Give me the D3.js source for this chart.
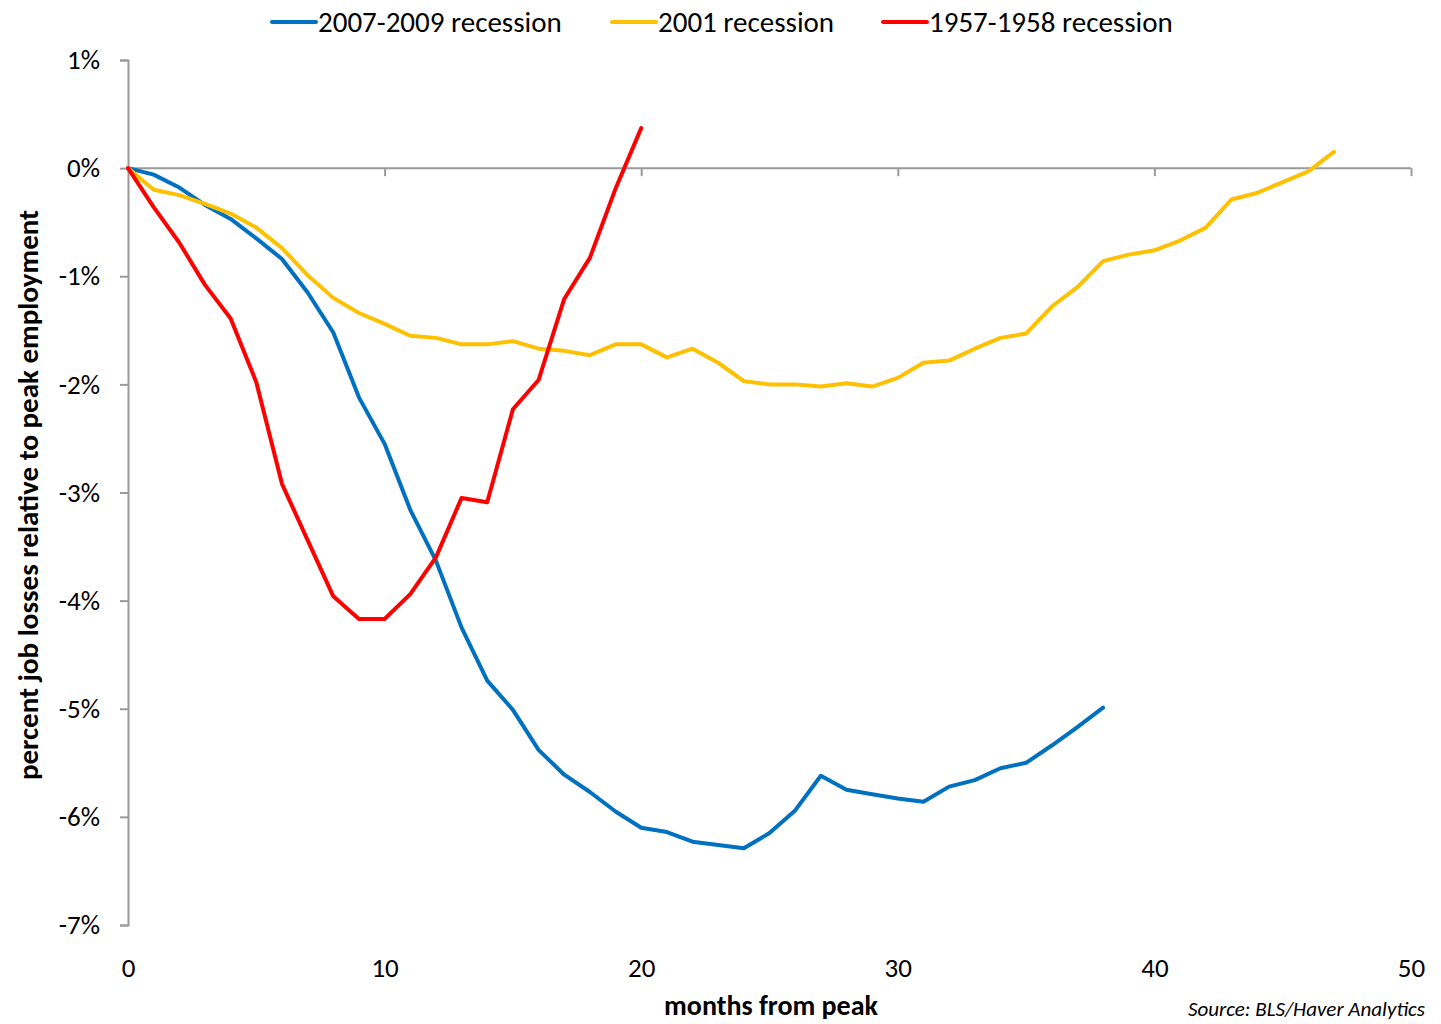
<!DOCTYPE html>
<html><head><meta charset="utf-8">
<script src="https://cdn.jsdelivr.net/npm/d3@7"></script>
<style>
body{margin:0;background:#fff;}
text{font-family:Carlito,Lato,'Noto Sans',sans-serif;fill:#000;}
</style></head>
<body><svg id="c" width="1441" height="1024"></svg>
<script>
const seriesNames = ["2007-2009 recession","2001 recession","1957-1958 recession"];
const seriesColors = ["#0070C0","#FFC000","#FF0000"];
const recession2007 = [0,-0.06,-0.18,-0.34,-0.47,-0.65,-0.84,-1.15,-1.52,-2.12,-2.55,-3.16,-3.63,-4.25,-4.74,-5.01,-5.38,-5.61,-5.77,-5.95,-6.10,-6.14,-6.23,-6.26,-6.29,-6.15,-5.94,-5.62,-5.75,-5.79,-5.83,-5.86,-5.72,-5.66,-5.55,-5.50,-5.34,-5.17,-4.99];
const recession2001 = [0,-0.20,-0.25,-0.33,-0.42,-0.55,-0.74,-0.99,-1.20,-1.34,-1.44,-1.55,-1.57,-1.63,-1.63,-1.60,-1.67,-1.69,-1.73,-1.63,-1.63,-1.75,-1.67,-1.80,-1.97,-2.00,-2.00,-2.02,-1.99,-2.02,-1.94,-1.80,-1.78,-1.67,-1.57,-1.53,-1.28,-1.10,-0.86,-0.80,-0.76,-0.67,-0.55,-0.29,-0.23,-0.13,-0.03,0.15];
const recession1957 = [0,-0.36,-0.69,-1.08,-1.39,-1.98,-2.92,-3.44,-3.96,-4.17,-4.17,-3.94,-3.60,-3.05,-3.09,-2.23,-1.96,-1.21,-0.83,-0.19,0.37];
const xTicks = [0,10,20,30,40,50];
const yTicks = [1,0,-1,-2,-3,-4,-5,-6,-7];

const FONT = "Carlito,Lato,'Noto Sans',sans-serif";
const svg = d3.select("#c");
const x = d3.scaleLinear().domain([0,50]).range([128,1411]);
const y = d3.scaleLinear().domain([-7,1]).range([925,60]);
const axisColor = "#999";

// y axis
const gy = svg.append("g").attr("transform",`translate(${x(0)},0)`)
  .call(d3.axisLeft(y).tickValues(yTicks).tickSize(8).tickPadding(20).tickFormat(d=>d+"%"));
gy.select(".domain").attr("stroke",axisColor).attr("stroke-width",2);
gy.selectAll(".tick line").attr("stroke",axisColor).attr("stroke-width",2);
gy.selectAll(".tick text").attr("font-size",27).attr("font-family",FONT).attr("fill","#000");

// x axis line at zero
const gx = svg.append("g").attr("transform",`translate(0,${y(0)})`)
  .call(d3.axisBottom(x).tickValues(xTicks).tickSize(8).tickFormat(""));
gx.select(".domain").attr("stroke",axisColor).attr("stroke-width",2).attr("d",`M${x(0)},0H${x(50)}`);
gx.selectAll(".tick line").attr("stroke",axisColor).attr("stroke-width",2);
gx.selectAll(".tick").filter(d=>d===0).remove();

// x tick labels at bottom
const gxl = svg.append("g").attr("transform",`translate(0,958)`)
  .call(d3.axisBottom(x).tickValues(xTicks).tickSize(0).tickPadding(0));
gxl.select(".domain").remove();
gxl.selectAll(".tick text").attr("font-size",27).attr("font-family",FONT).attr("fill","#000");

// lines
const line = d3.line().x((d,i)=>x(i)).y(d=>y(d));
const allSeries = [recession2007, recession2001, recession1957];
allSeries.forEach((s,k)=>{
  svg.append("path").datum(s).attr("d",line).attr("fill","none")
    .attr("stroke",seriesColors[k]).attr("stroke-width",4)
    .attr("stroke-linejoin","round").attr("stroke-linecap","round");
});

// legend
const legendX = [272,612,883];
seriesNames.forEach((n,k)=>{
  svg.append("line").attr("x1",legendX[k]).attr("x2",legendX[k]+44).attr("y1",22).attr("y2",22)
    .attr("stroke",seriesColors[k]).attr("stroke-width",4).attr("stroke-linecap","round");
  svg.append("text").attr("x",legendX[k]+46).attr("y",32).attr("font-size",29).text(n);
});

// axis titles
svg.append("text").attr("transform","translate(38,495) rotate(-90)").attr("text-anchor","middle")
  .attr("font-size",29).attr("font-weight","bold").text("percent job losses relative to peak employment");
svg.append("text").attr("x",771).attr("y",1015).attr("text-anchor","middle")
  .attr("font-size",28).attr("font-weight","bold").text("months from peak");
svg.append("text").attr("x",1425).attr("y",1016).attr("text-anchor","end")
  .attr("font-size",21).attr("font-style","italic").text("Source: BLS/Haver Analytics");
</script></body></html>
